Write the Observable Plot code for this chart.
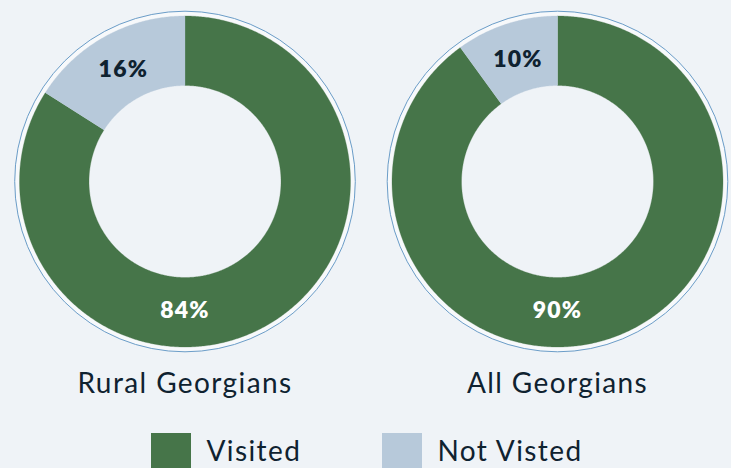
<!DOCTYPE html>
<html>
<head>
<meta charset="utf-8">
<script src="https://cdn.jsdelivr.net/npm/d3@7"></script>
<script src="https://cdn.jsdelivr.net/npm/@observablehq/plot@0.6"></script>
<style>
  html, body { margin: 0; padding: 0; background: #eff3f7; overflow: hidden; }
  #chart svg { display: block; }
  .title text, .legend-text text { letter-spacing: 1.4px; }
  .pct text { letter-spacing: 1.2px; }
</style>
</head>
<body>
<div id="chart"></div>
<script>
// ---- data ----
const groups = ["Rural Georgians", "All Georgians"];
const visitedPct = [84, 90];
const notVisitedPct = [16, 10];
const categories = ["Visited", "Not Visted"];
const palette = ["#467549", "#b7c9da"];

// ---- layout ----
const W = 731, H = 468;
const centersX = [184.5, 557];
const cy = 181;
const R = 165.5, r0 = 96;
const labelR = 130;

const deg = Math.PI / 180;
const pt = (cx, a, rad) => ({x: cx + rad * Math.sin(a), y: cy - rad * Math.cos(a)});

const slicePts = [];
const labels = [];
groups.forEach((g, gi) => {
  const cx = centersX[gi];
  const vals = [visitedPct[gi], notVisitedPct[gi]];
  const total = d3.sum(vals);
  let start = 0;
  vals.forEach((v, ci) => {
    const a0 = start / total * 2 * Math.PI;
    const a1 = (start + v) / total * 2 * Math.PI;
    const n = Math.max(2, Math.ceil((a1 - a0) / deg * 2));
    const id = g + "|" + categories[ci];
    for (let i = 0; i <= n; i++) {
      const a = a0 + (a1 - a0) * i / n;
      slicePts.push({id, category: categories[ci], ...pt(cx, a, R)});
    }
    for (let i = n; i >= 0; i--) {
      const a = a0 + (a1 - a0) * i / n;
      slicePts.push({id, category: categories[ci], ...pt(cx, a, r0)});
    }
    // big slice label at bottom of ring, small slice label at its mid angle
    const la = ci === 0 ? Math.PI : (a0 + a1) / 2;
    const lr = ci === 0 ? 129 : labelR - 2;
    labels.push({text: v + "%", category: categories[ci], ...pt(cx, la, lr)});
    start += v;
  });
});

const titles = groups.map((g, gi) => ({text: g, x: centersX[gi], y: 384}));
const rings = groups.map((g, gi) => ({x: centersX[gi], y: cy}));

const legendX = [151, 382];
const legend = categories.map((c, i) => ({category: c, x: legendX[i]}));

const chart = Plot.plot({
  width: W,
  height: H,
  margin: 0,
  x: {domain: [0, W], range: [0, W], axis: null},
  y: {domain: [0, H], range: [0, H], axis: null},
  color: {domain: categories, range: palette},
  style: {background: "#eff3f7", fontFamily: "Lato, sans-serif", overflow: "visible"},
  marks: [
    // outer thin outline ring with a light gap
    Plot.dot(rings, {x: "x", y: "y", r: R + 2.2, fill: "none", stroke: "#f7f9fb", strokeWidth: 4.4}),
    Plot.dot(rings, {x: "x", y: "y", r: R + 4.8, fill: "none", stroke: "#6b9dc8", strokeWidth: 1}),
    // donut slices
    Plot.line(slicePts, {x: "x", y: "y", z: "id", fill: "category", stroke: "category", strokeWidth: 0.3, curve: "linear"}),
    // percentage labels
    Plot.text(labels, {
      x: "x", y: "y", text: "text",
      fill: d => d.category === categories[0] ? "#ffffff" : "#0f2230",
      fontSize: 23, fontWeight: 800, fontFamily: "Lato, sans-serif", className: "pct"
    }),
    // group titles
    Plot.text(titles, {x: "x", y: "y", text: "text", fill: "#0f2230", fontSize: 28, fontFamily: "Lato, sans-serif", className: "title"}),
    // legend swatches
    Plot.rect(legend, {x1: "x", x2: d => d.x + 40, y1: 433, y2: 473, fill: "category"}),
    Plot.text(legend, {x: d => d.x + 55, y: 452, text: "category", textAnchor: "start", fill: "#0f2230", fontSize: 28, fontFamily: "Lato, sans-serif", className: "legend-text"})
  ]
});
document.getElementById("chart").appendChild(chart);
</script>
</body>
</html>
